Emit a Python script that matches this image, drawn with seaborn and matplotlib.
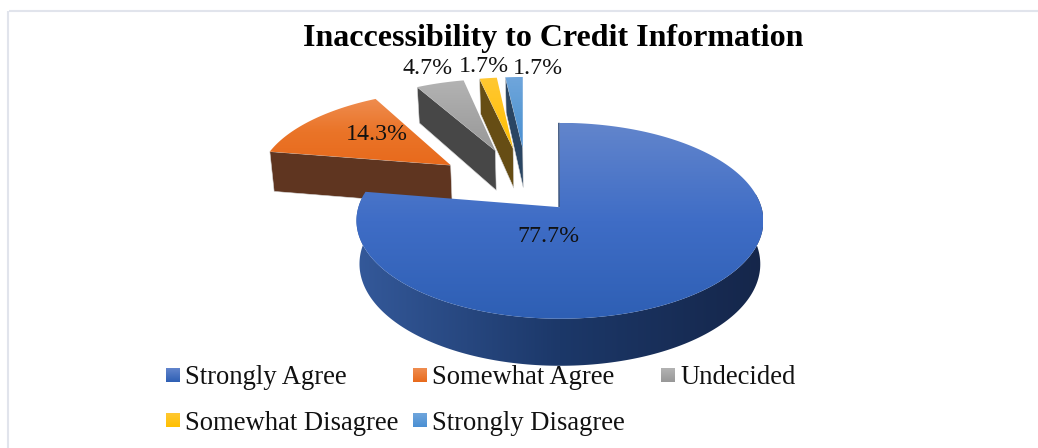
import numpy as np
import matplotlib
matplotlib.use("Agg")
import matplotlib.pyplot as plt
from matplotlib.patches import Polygon
from matplotlib.colors import LinearSegmentedColormap
import seaborn as sns

# Survey responses
categories = ["Strongly Agree", "Somewhat Agree", "Undecided",
              "Somewhat Disagree", "Strongly Disagree"]
shares = [77.7, 14.3, 4.7, 1.7, 1.7]
value_labels = ["77.7%", "14.3%", "4.7%", "1.7%", "1.7%"]
title = "Inaccessibility to Credit Information"

# Slice styling: top surface gradient (far, middle, near) and side wall colours
top_far = ["#6285cc", "#ef8d50", "#b3b3b3", "#ffc833", "#70a6dc"]
top_mid = ["#3f6dc6", "#ea7428", "#a5a5a5", "#ffc31a", "#5b9bd5"]
top_near = ["#2e5fb4", "#e86a1c", "#989898", "#ffc000", "#4a8fd3"]
wall_left = ["#34599a", "#5f3520", "#474747", "#664d14", "#2a4562"]
wall_mid = ["#1c3869", "#5f3520", "#474747", "#664d14", "#2a4562"]
wall_right = ["#15264a", "#5f3520", "#474747", "#664d14", "#2a4562"]
explode = [0.262, 0.493, 0.493, 0.493, 0.493]

sns.set_theme(style="white")
plt.rcParams["font.family"] = ["Liberation Serif", "DejaVu Serif"]

W, H = 1038, 448
fig = plt.figure(figsize=(W / 100, H / 100), dpi=100)
ax = fig.add_axes([0, 0, 1, 1])

# Perspective projection of the pie plane onto the page
XC, YC, AX, AY, K = 557.0, 207.0, 201.0, 95.6, 0.138
CENTER = np.array([-0.16, 0.182])
FAR_LEAN = 3.8
MAIN_NUDGE = (1.0, -1.5)


def project(u, v):
    w = 1 + K * v
    return XC + AX * u / w, YC - AY * v / w


def floor_of(x, y, v):
    # the lower rim sits slightly inward and below the upper rim
    return XC + (x - XC) * 0.985, y + 42.6 - 4.4 * v


def gradient_fill(poly_xy, colors, zorder, horizontal=False, extent=None):
    poly = Polygon(poly_xy, closed=True, fc="none", ec="none", zorder=zorder)
    ax.add_patch(poly)
    xs, ys = poly_xy[:, 0], poly_xy[:, 1]
    cmap = LinearSegmentedColormap.from_list("g", colors)
    ramp = np.linspace(0, 1, 256)
    ramp = ramp[None, :] if horizontal else ramp[:, None]
    box = extent or (xs.min(), xs.max(), ys.max(), ys.min())
    im = ax.imshow(ramp, cmap=cmap, extent=box, origin="upper",
                   aspect="auto", zorder=zorder, interpolation="bilinear")
    im.set_clip_path(poly)
    return poly


fractions = np.array(shares) / np.sum(shares)
edges = np.concatenate([[0], np.cumsum(fractions)]) * 2 * np.pi

# Back slices first so the nearer ones overlap them
for i in reversed(range(len(shares))):
    t0, t1 = edges[i], edges[i + 1]
    mid = (t0 + t1) / 2
    apex = CENTER + explode[i] * np.array([np.sin(mid), np.cos(mid)])
    th = np.linspace(t0, t1, 240)
    u = apex[0] + np.sin(th)
    v = apex[1] + np.cos(th)
    rim_x, rim_y = project(u, v)
    ax_x, ax_y = project(apex[0], apex[1])
    z = 10 + 3 * (len(shares) - i)

    if i == 0:
        rim_x, rim_y = rim_x + MAIN_NUDGE[0], rim_y + MAIN_NUDGE[1]
        ax_x, ax_y = ax_x + MAIN_NUDGE[0], ax_y + MAIN_NUDGE[1]
        # outer curved wall along the near side, and the thin cut face at the top
        mask = (th > np.pi * 0.45) & (th < np.pi * 1.55)
        rx, ry, rv = rim_x[mask], rim_y[mask], v[mask]
        fx, fy = floor_of(rx, ry, rv)
        wall = np.column_stack([np.r_[rx, fx[::-1]], np.r_[ry, fy[::-1]]])
        gradient_fill(wall, [wall_left[i], wall_mid[i], wall_right[i]], z, horizontal=True,
                      extent=(rx.min(), rx.max(), fy.max(), ry.min()))
        sx, sy = rim_x[0], rim_y[0]
        ax.add_patch(Polygon([(sx, sy), (ax_x, ax_y), (ax_x - 1.5, ax_y), (sx - 1.5, sy)],
                             fc="#24406f", ec="none", zorder=z))
    else:
        # exploded slices lean a little to the left as they recede
        rim_x = rim_x - FAR_LEAN * (v - apex[1])
        # flat cut face on the edge turned toward the viewer
        fx0, fy0 = floor_of(rim_x[0], rim_y[0], v[0])
        fx1, fy1 = floor_of(ax_x, ax_y, apex[1])
        ax.add_patch(Polygon([(rim_x[0], rim_y[0]), (ax_x, ax_y), (fx1, fy1), (fx0, fy0)],
                             fc=wall_left[i], ec="#d9d9d9", lw=0.4, zorder=z))

    top = np.column_stack([np.r_[ax_x, rim_x], np.r_[ax_y, rim_y]])
    gradient_fill(top, [top_far[i], top_mid[i], top_near[i]], z + 1)

# Value labels
label_pos = [(548, 237), (377, 135), (428, 68), (484, 66), (538, 68)]
for txt, (x, y) in zip(value_labels, label_pos):
    ax.text(x, y, txt, ha="center", va="center", fontsize=17.2, color="#111111", zorder=40)

ax.text(553.5, 38.5, title, ha="center", va="center", fontsize=23,
        fontweight="bold", color="black", zorder=40)

# Legend laid out in wrapped rows
legend_slots = [(166, 375.5), (413, 375.5), (661, 375.5), (166, 420.5), (413, 420.5)]
for i, (name, (x, y)) in enumerate(zip(categories, legend_slots)):
    swatch = np.array([(x, y - 7), (x + 14, y - 7), (x + 14, y + 7), (x, y + 7)], float)
    gradient_fill(swatch, [top_far[i], top_near[i]], 30)
    ax.text(x + 19, y + 9, name, ha="left", va="baseline", fontsize=19.2,
            color="#111111", zorder=40)

# Chart-area frame, open on the right and at the bottom
ax.plot([8.5, W], [11, 11], color="#e1e4ec", lw=1.5, solid_capstyle="butt", zorder=1)
ax.plot([8, 8], [11, H], color="#e1e4ec", lw=1.5, solid_capstyle="butt", zorder=1)

ax.set_xlim(0, W)
ax.set_ylim(H, 0)
ax.axis("off")
fig.savefig("out.png", dpi=100, facecolor="white")
